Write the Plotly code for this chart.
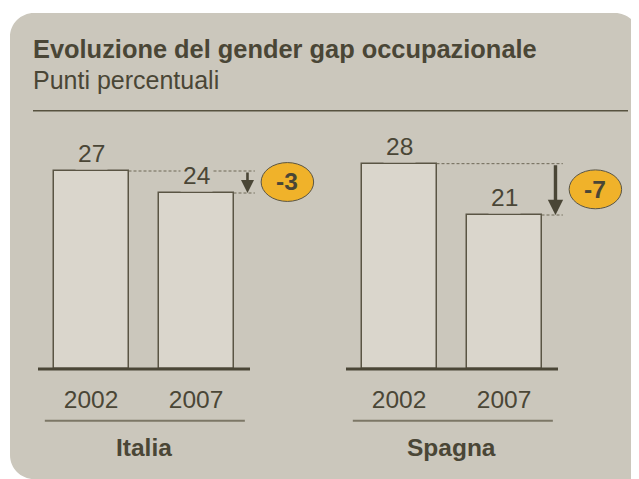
import plotly.graph_objects as go

# ---------------- data ----------------
countries = ["Italia", "Spagna"]
years = ["2002", "2007"]
gap_2002 = [27, 28]
gap_2007 = [24, 21]
title_text = "Evoluzione del gender gap occupazionale"
subtitle_text = "Punti percentuali"

# ---------------- style ----------------
OFF = 8  # page body margin compensation
W, H = 639 - OFF, 479 - OFF
PANEL = "#CBC7BC"
BAR = "#DAD6CC"
DARK = "#4A4636"
LINE = "#5A5544"
SEP = "#7C7766"
BADGE = "#F0B22A"
FONT = "Liberation Sans, Arial, sans-serif"
FS = 24.5


def px(x):
    return (x - OFF) / W


def py(y):
    return 1 - (y - OFF) / H


fig = go.Figure()

# subplot layout (page-pixel-based domains)
x_domains = [(38, 330), (346, 639)]
PXU = 105.0  # pixels per category unit
x_left = -0.505
y_bottom_px, y_top_px = 376.33, 149.0
y_range = [-1, 30]

for i, c in enumerate(countries):
    xa = "x" if i == 0 else "x2"
    ya = "y" if i == 0 else "y2"
    vals = [gap_2002[i], gap_2007[i]]
    fig.add_trace(go.Bar(
        x=[0, 1], y=vals, width=0.714,
        marker=dict(color=BAR, line=dict(color=LINE, width=1.5)),
        xaxis=xa, yaxis=ya, showlegend=False, hoverinfo="skip",
    ))
    d0, d1 = x_domains[i]
    xr = [x_left, x_left + (d1 - d0) / PXU]
    axname = "xaxis" if i == 0 else "xaxis2"
    yname = "yaxis" if i == 0 else "yaxis2"
    fig.update_layout(**{
        axname: dict(domain=[px(d0), px(d1)], range=xr, anchor=ya,
                     tickvals=[0, 1], ticktext=years, showgrid=False,
                     zeroline=False, showline=False, ticks="",
                     tickfont=dict(size=FS, color=DARK, family=FONT),
                     ticklabelstandoff=6, fixedrange=True),
        yname: dict(domain=[py(y_bottom_px), py(y_top_px)], range=y_range,
                    anchor=xa, showgrid=False, zeroline=False,
                    showticklabels=False, showline=False, fixedrange=True),
    })

    # baseline
    fig.add_shape(type="line", xref=xa, yref=ya, x0=x_left, x1=1.514,
                  y0=0, y1=0, line=dict(color=DARK, width=3.2), layer="above")

    # dashed reference lines
    x_end = 1.56
    fig.add_shape(type="line", xref=xa, yref=ya, x0=0.357, x1=x_end,
                  y0=vals[0], y1=vals[0],
                  line=dict(color="#6E6957", width=1, dash="3px,2px"))
    fig.add_shape(type="line", xref=xa, yref=ya, x0=1.357, x1=x_end,
                  y0=vals[1], y1=vals[1],
                  line=dict(color="#6E6957", width=1, dash="3px,2px"))

    # value labels
    for j, v in enumerate(vals):
        fig.add_annotation(x=j, y=v, xref=xa, yref=ya, text=str(v),
                           showarrow=False, yanchor="middle", yshift=17,
                           font=dict(size=FS, color=DARK, family=FONT),
                           bgcolor=PANEL, borderpad=2)

    # arrow
    fig.add_annotation(x=1.49, y=vals[1], ax=1.49, ay=vals[0],
                       xref=xa, yref=ya, axref=xa, ayref=ya, text="",
                       showarrow=True, arrowhead=2,
                       arrowsize=1.0 if i == 0 else 0.9,
                       arrowwidth=2.6 if i == 0 else 3.4,
                       arrowcolor=DARK, standoff=0, startstandoff=0)

    # badge ellipse with difference
    mid = (vals[0] + vals[1]) / 2
    cx = 1.87
    fig.add_shape(type="circle", xref=xa, yref=ya,
                  x0=cx - 0.25, x1=cx + 0.25, y0=mid - 2.65, y1=mid + 2.65,
                  fillcolor=BADGE, line=dict(color=LINE, width=1),
                  layer="above")
    diff = vals[1] - vals[0]
    fig.add_annotation(x=cx, y=mid, xref=xa, yref=ya, text=f"<b>{diff}</b>",
                       showarrow=False,
                       font=dict(size=FS, color=DARK, family=FONT))

    # separator line under years and country name
    fig.add_shape(type="line", xref=xa, yref="paper", x0=-0.44, x1=1.465,
                  y0=py(420.7), y1=py(420.7),
                  line=dict(color=SEP, width=2))
    fig.add_annotation(x=0.5, y=py(447), xref=xa, yref="paper",
                       text=f"<b>{c}</b>", showarrow=False, yanchor="middle",
                       font=dict(size=FS, color=DARK, family=FONT))

# panel background (rounded)
r, k = 24, 0.5523
L, T, R, B = 10, 13, 639, 479


def P(x, y):
    return f"{px(x):.5f},{py(y):.5f}"


path = (
    f"M{P(L + r, T)} L{P(R - r, T)} "
    f"C{P(R - r + k * r, T)} {P(R, T + r - k * r)} {P(R, T + r)} "
    f"L{P(R + 10, T + r)} L{P(R + 10, B + 10)} L{P(L + r, B + 10)} "
    f"L{P(L + r, B)} "
    f"C{P(L + r - k * r, B)} {P(L, B - r + k * r)} {P(L, B - r)} "
    f"L{P(L, T + r)} "
    f"C{P(L, T + r - k * r)} {P(L + r - k * r, T)} {P(L + r, T)} Z"
)
fig.add_shape(type="path", xref="paper", yref="paper", path=path,
              fillcolor=PANEL, line=dict(width=0), layer="below")

# title block
fig.add_annotation(x=px(31), y=py(49.5), xref="paper", yref="paper",
                   xanchor="left", yanchor="middle", showarrow=False,
                   text=f"<b>{title_text}</b>",
                   font=dict(size=25.4, color=DARK, family=FONT))
fig.add_annotation(x=px(31), y=py(80.5), xref="paper", yref="paper",
                   xanchor="left", yanchor="middle", showarrow=False,
                   text=subtitle_text,
                   font=dict(size=25, color=DARK, family=FONT))
fig.add_shape(type="line", xref="paper", yref="paper",
              x0=px(33), x1=px(628), y0=py(110.7), y1=py(110.7),
              line=dict(color="#57523F", width=1.4))

fig.update_layout(
    width=W, height=H,
    margin=dict(l=0, r=0, t=0, b=0),
    paper_bgcolor="white", plot_bgcolor="rgba(0,0,0,0)",
    font=dict(family=FONT, color=DARK),
    bargap=0, showlegend=False,
)

fig.write_html("out.html", config={"displayModeBar": False})
